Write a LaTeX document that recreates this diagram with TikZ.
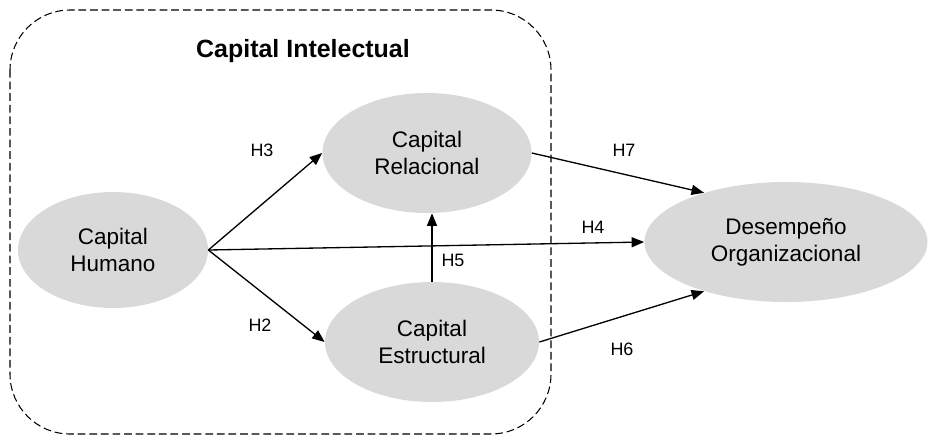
\documentclass[tikz,border=0pt]{standalone}
\usepackage{fontspec}
\setmainfont{Liberation Sans}
\usetikzlibrary{arrows.meta, shapes.geometric, positioning}
\definecolor{ovalgray}{HTML}{D9D9D9}

\begin{document}
\begin{tikzpicture}[% styles used in image code
         x = 0.2mm, y = -0.2mm,
         > = {Triangle[length=2.5mm, width=2mm]},
construct/.style args = {#1/#2}{ellipse, fill=ovalgray,
              minimum width=#1, minimum height=#2,
              inner sep=0pt, align=center,
              font=\fontsize{12.8}{15.5}\selectfont},
hyp/.style = {font=\fontsize{10.2}{12}\selectfont, inner sep=1pt},
link/.style = {->, line width=0.75pt},
groupbox/.style = {draw, line width=0.6pt, dash pattern=on 4.4pt off 2.2pt,
              rounded corners=12mm}
                        ]
	\useasboundingbox (0,0) rectangle (931,436);

	% intellectual capital group
	\draw[groupbox] (10,10) rectangle (551,434);
	\node[anchor=base, font=\fontsize{14.2}{17}\selectfont\bfseries]
	      (title) at (303,57) {Capital Intelectual};

	% constructs
	\node[construct=38mm/23.2mm]   (hum) at (113,250) {Capital\\Humano};
	\node[construct=41.8mm/24mm]   (rel) at (427,153) {Capital\\Relacional};
	\node[construct=42.8mm/24mm]   (est) at (432,342) {Capital\\Estructural};
	\node[construct=56.6mm/24mm]   (des) at (786,242) {Desempeño\\Organizacional};

	% hypotheses
	\draw[link] (hum.east) -- (rel.west);
	\draw[link] (hum.east) -- (est.west);
	\draw[link] (hum.east) -- (des.west);
	\draw[link] (est.north) -- (est.north |- rel.south);
	\draw[link] (rel.east) -- (des.149);
	\draw[link] (est.east) -- (des.211);

	\node[hyp] (h3) at (262,150) {H3};
	\node[hyp] (h2) at (260,325) {H2};
	\node[hyp] (h4) at (593,227) {H4};
	\node[hyp] (h5) at (453,260) {H5};
	\node[hyp] (h7) at (624,150) {H7};
	\node[hyp] (h6) at (622,349) {H6};
\end{tikzpicture}
\end{document}
